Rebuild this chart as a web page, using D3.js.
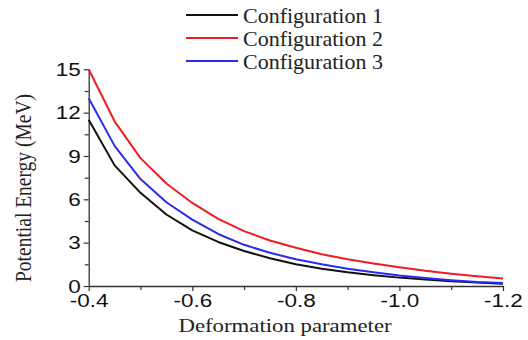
<!DOCTYPE html>
<html>
<head>
<meta charset="utf-8">
<script src="https://cdn.jsdelivr.net/npm/d3@7"></script>
<style>
  body { margin: 0; background: #fff; }
  svg { display: block; }
</style>
</head>
<body>
<div class="chart"></div>
<script>
// deformation parameter values (x)
var deformation = [-0.40, -0.45, -0.50, -0.55, -0.60, -0.65, -0.70, -0.75, -0.80,
                   -0.85, -0.90, -0.95, -1.00, -1.05, -1.10, -1.15, -1.20];
// potential energy (MeV)
var config1 = [11.5, 8.35, 6.45, 4.95, 3.85, 3.05, 2.42, 1.92, 1.5, 1.2, 0.95, 0.75, 0.58, 0.45, 0.33, 0.24, 0.16];
var config2 = [15.0, 11.4, 8.85, 7.1, 5.75, 4.65, 3.8, 3.15, 2.65, 2.2, 1.85, 1.55, 1.3, 1.05, 0.85, 0.68, 0.52];
var config3 = [13.0, 9.7, 7.4, 5.8, 4.6, 3.6, 2.85, 2.3, 1.85, 1.5, 1.2, 0.95, 0.72, 0.55, 0.4, 0.28, 0.2];
var seriesNames = ["Configuration 1", "Configuration 2", "Configuration 3"];
var seriesColors = ["#111111", "#ee1c25", "#2b2bee"];
var xTicks = [-0.4, -0.6, -0.8, -1.0, -1.2];
var xMinor = [-0.5, -0.7, -0.9, -1.1];
var yTicks = [0, 3, 6, 9, 12, 15];
var yMinor = [1.5, 4.5, 7.5, 10.5, 13.5];

var width = 528, height = 340;
var svg = d3.select(".chart").append("svg")
  .attr("width", width).attr("height", height);

var x = d3.scaleLinear().domain([-0.4, -1.2]).range([88.7, 503]);
var y = d3.scaleLinear().domain([0, 15]).range([286, 69.3]);

var tickFont = "'Liberation Sans', Arial, sans-serif";
var serif = "'Liberation Serif', 'Times New Roman', serif";
var stretch = 1.25; // the picture's text looks wider than normal

// minor ticks first
svg.append("g").attr("transform", "translate(0,286)")
  .call(d3.axisBottom(x).tickValues(xMinor).tickSize(4).tickFormat(""))
  .call(function (g) { g.select(".domain").remove(); })
  .selectAll("line").attr("stroke", "#333").attr("stroke-width", 1.2);
svg.append("g").attr("transform", "translate(88.7,0)")
  .call(d3.axisLeft(y).tickValues(yMinor).tickSize(4).tickFormat(""))
  .call(function (g) { g.select(".domain").remove(); })
  .selectAll("line").attr("stroke", "#333").attr("stroke-width", 1.2);

// x axis
var xAxis = svg.append("g").attr("transform", "translate(0,286)")
  .call(d3.axisBottom(x).tickValues(xTicks).tickSize(5).tickSizeOuter(0).tickPadding(3)
    .tickFormat(function (d) { return d.toFixed(1); }));
xAxis.select(".domain").attr("stroke", "#333").attr("stroke-width", 1.3);
xAxis.selectAll("line").attr("stroke", "#333").attr("stroke-width", 1.2);
xAxis.selectAll("text")
  .attr("font-family", tickFont).attr("font-size", 18).attr("fill", "#111")
  .attr("dy", null).attr("y", 21)
  .attr("transform", "scale(" + stretch + ",1)");

// y axis
var yAxis = svg.append("g").attr("transform", "translate(88.7,0)")
  .call(d3.axisLeft(y).tickValues(yTicks).tickSize(5).tickSizeOuter(0).tickPadding(3));
yAxis.select(".domain").attr("stroke", "#333").attr("stroke-width", 1.3);
yAxis.selectAll("line").attr("stroke", "#333").attr("stroke-width", 1.2);
yAxis.selectAll("text")
  .attr("font-family", tickFont).attr("font-size", 18).attr("fill", "#111")
  .attr("x", -8 / stretch).attr("dy", "0.34em")
  .attr("transform", "scale(" + stretch + ",1)");

// lines
var line = d3.line()
  .x(function (d, i) { return x(deformation[i]); })
  .y(function (d) { return y(d); });

var allSeries = [config1, config2, config3];
svg.append("g").selectAll("path")
  .data(allSeries)
  .enter().append("path")
  .attr("fill", "none")
  .attr("stroke", function (d, i) { return seriesColors[i]; })
  .attr("stroke-width", 2)
  .attr("stroke-linejoin", "round")
  .attr("d", line);

// axis titles
svg.append("text")
  .attr("transform", "translate(285,331.5) scale(1.2,1)")
  .attr("text-anchor", "middle")
  .attr("font-family", serif).attr("font-size", 19).attr("fill", "#222")
  .text("Deformation parameter");

svg.append("text")
  .attr("transform", "translate(31,188) scale(1.15,1) rotate(-90)")
  .attr("text-anchor", "middle")
  .attr("font-family", serif).attr("font-size", 19.5).attr("fill", "#222")
  .text("Potential Energy (MeV)");

// legend
var legend = svg.append("g").selectAll("g")
  .data(seriesNames)
  .enter().append("g")
  .attr("transform", function (d, i) { return "translate(186," + (15 + i * 23) + ")"; });
legend.append("line")
  .attr("x1", 0).attr("x2", 52)
  .attr("stroke", function (d, i) { return seriesColors[i]; })
  .attr("stroke-width", 2);
legend.append("text")
  .attr("x", 57).attr("y", 8)
  .attr("font-family", serif).attr("font-size", 22).attr("fill", "#222")
  .text(function (d) { return d; });
</script>
</body>
</html>
